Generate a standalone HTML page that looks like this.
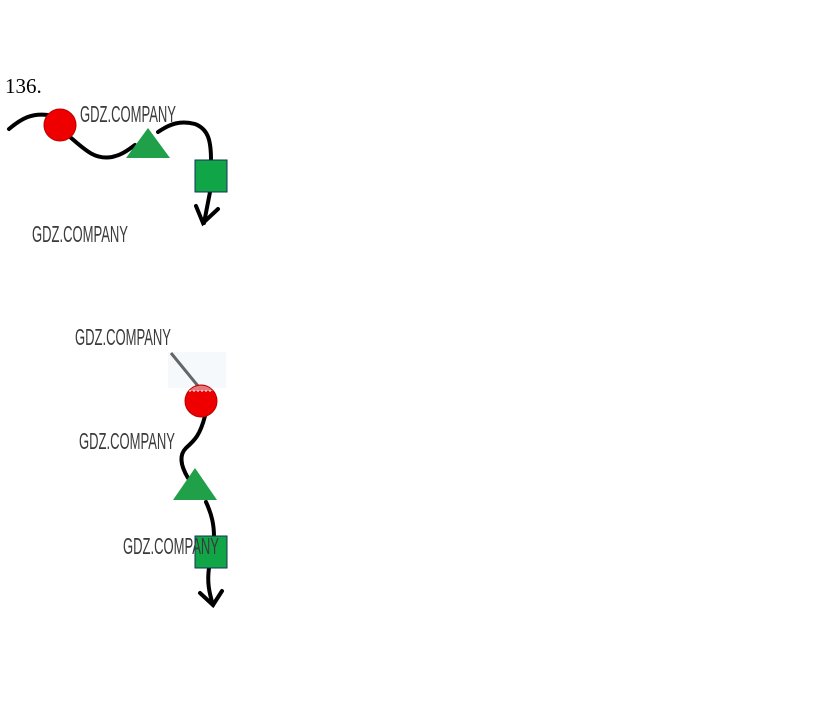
<!DOCTYPE html>
<html><head><meta charset="utf-8"><style>
html,body{margin:0;padding:0;background:#fff;}
svg{display:block;}
.w{font-family:"Liberation Sans",sans-serif;font-size:23px;fill:#3a3a3a;}
</style></head><body>
<svg width="823" height="713" viewBox="0 0 823 713" xmlns="http://www.w3.org/2000/svg">
<text x="5" y="93" font-family="Liberation Serif,serif" font-size="21" fill="#000">136.</text>
<g fill="none" stroke="#000" stroke-width="4" stroke-linecap="round">
<path d="M9,129 C22,118 32,113 48,115"/>
<path d="M70,137 C85,150 95,160 112,157 C122,155 128,150 135,145"/>
<path d="M158,132 C170,124 180,120 195,124 C208,129 211,140 211,160"/>
<path d="M210,192 L204,223"/>
<path d="M196,206 L203,223 L218,209"/>
</g>
<circle cx="60" cy="125" r="16" fill="#ee0000" stroke="#b00" stroke-width="1"/>
<polygon points="148,128 170,158 126,158" fill="#1fa049"/>
<rect x="195" y="160" width="32" height="32" fill="#10a648" stroke="#135" stroke-width="1"/>
<text class="w" x="80" y="122" textLength="96" lengthAdjust="spacingAndGlyphs">GDZ.COMPANY</text>
<text class="w" x="32" y="242" textLength="96" lengthAdjust="spacingAndGlyphs">GDZ.COMPANY</text>
<rect x="168" y="352" width="58" height="36" fill="#f6f9fc"/>
<line x1="171" y1="353" x2="198" y2="386" stroke="#666" stroke-width="3"/>
<g fill="none" stroke="#000" stroke-width="4" stroke-linecap="round">
<path d="M205,416 C200,435 195,440 186,448 C178,456 182,468 188,478"/>
<path d="M206,502 C212,515 214,525 214,537"/>
<path d="M209,568 C207,582 209,592 213,605"/>
<path d="M200,593 L213,605 L222,591"/>
</g>
<circle cx="201" cy="401" r="16" fill="#ee0000" stroke="#b00" stroke-width="1"/>
<path d="M189,391 A16,16 0 0 1 213,391 Z" fill="#e07a80"/>
<line x1="189" y1="391" x2="213" y2="391" stroke="#fff" stroke-width="1" stroke-dasharray="2,2"/>
<polygon points="195,468 217,500 173,500" fill="#1fa049"/>
<rect x="195" y="536" width="32" height="32" fill="#10a648" stroke="#135" stroke-width="1"/>
<text class="w" x="75" y="345" textLength="96" lengthAdjust="spacingAndGlyphs">GDZ.COMPANY</text>
<text class="w" x="79" y="449" textLength="96" lengthAdjust="spacingAndGlyphs">GDZ.COMPANY</text>
<text class="w" x="123" y="554" textLength="96" lengthAdjust="spacingAndGlyphs">GDZ.COMPANY</text>
</svg>
</body></html>
